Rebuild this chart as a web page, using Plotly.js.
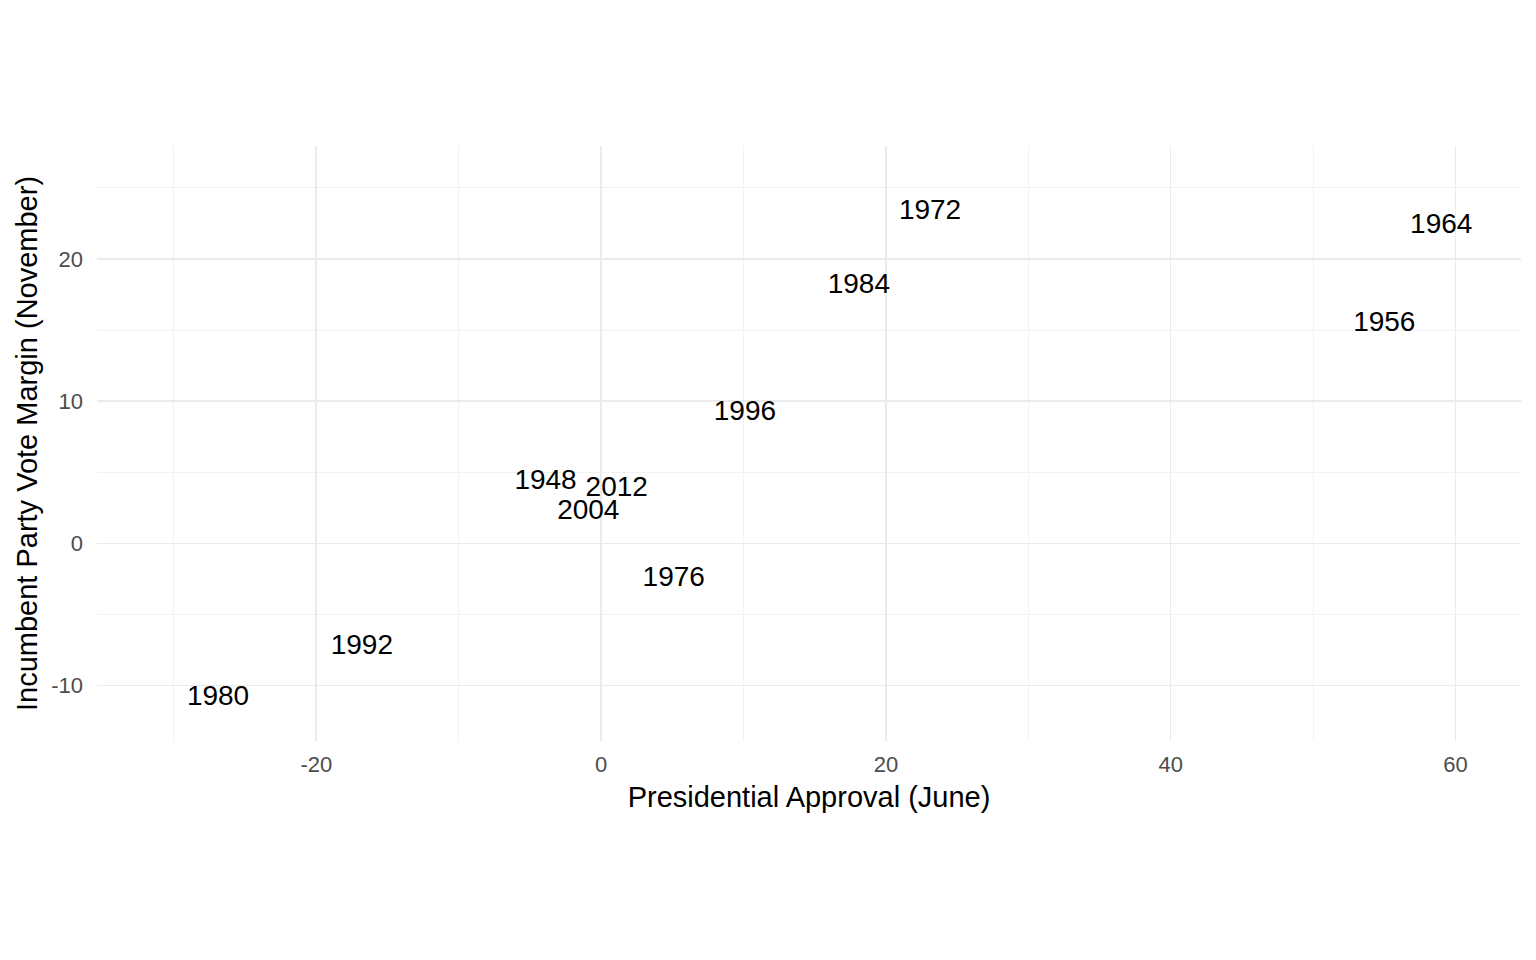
<!DOCTYPE html>
<html>
<head>
<meta charset="utf-8">
<script src="https://cdn.plot.ly/plotly-3.0.1.min.js"></script>
<style>html,body{margin:0;padding:0;background:#fff;}#chart{width:1536px;height:960px;}</style>
</head>
<body>
<div id="chart"></div>
<script>
const years = ["1948","1956","1964","1972","1976","1980","1984","1992","1996","2004","2012"];
const approval = [-3.9, 55.0, 59.0, 23.1, 5.1, -26.9, 18.1, -16.8, 10.1, -0.9, 1.1];
const voteMargin = [4.3, 15.4, 22.3, 23.3, -2.5, -10.9, 18.1, -7.3, 9.2, 2.2, 3.8];
const xTicks = [-20, 0, 20, 40, 60];
const yTicks = [-10, 0, 10, 20];

const trace = {
  type: 'scatter',
  mode: 'text',
  x: approval,
  y: voteMargin,
  text: years,
  textposition: 'middle center',
  textfont: {family: 'Liberation Sans, Arial, sans-serif', size: 28, color: '#000'},
  hoverinfo: 'none',
  showlegend: false
};

const layout = {
  width: 1536, height: 960,
  paper_bgcolor: '#fff', plot_bgcolor: '#fff',
  margin: {l: 97, r: 15, t: 146, b: 219, pad: 0},
  font: {family: 'Liberation Sans, Arial, sans-serif'},
  xaxis: {
    range: [-35.4, 64.6],
    tickvals: xTicks, ticktext: xTicks.map(String),
    showgrid: true, gridcolor: '#EBEBEB', gridwidth: 1.6,
    minor: {dtick: 10, tick0: 0, showgrid: true, gridcolor: '#F2F2F2', gridwidth: 1},
    zeroline: false, showline: false, ticks: '',
    ticklabelstandoff: 8,
    tickfont: {size: 22, color: '#4D4D4D'},
    title: {text: 'Presidential Approval (June)', font: {size: 29, color: '#000'}, standoff: 10}
  },
  yaxis: {
    range: [-13.9, 27.94],
    tickvals: yTicks, ticktext: yTicks.map(String),
    showgrid: true, gridcolor: '#EBEBEB', gridwidth: 1.6,
    minor: {dtick: 5, tick0: 0, showgrid: true, gridcolor: '#F2F2F2', gridwidth: 1},
    zeroline: false, showline: false, ticks: '',
    ticklabelstandoff: 13,
    tickfont: {size: 22, color: '#4D4D4D'},
    title: {text: 'Incumbent Party Vote Margin (November)', font: {size: 29, color: '#000'}, standoff: 5}
  }
};

Plotly.newPlot('chart', [trace], layout, {displayModeBar: false, staticPlot: true});
</script>
</body>
</html>
